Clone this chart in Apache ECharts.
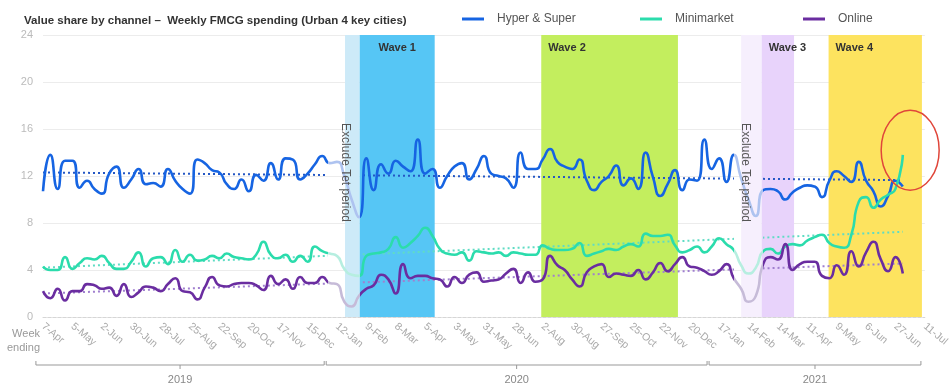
<!DOCTYPE html>
<html>
<head>
<meta charset="utf-8">
<script src="https://cdn.jsdelivr.net/npm/echarts@6/dist/echarts.min.js"></script>
<style>
  html, body { margin: 0; padding: 0; background: #fff; }
  #main { width: 952px; height: 389px; }
</style>
</head>
<body>
<div id="main"></div>
<script>
// week labels, one every 4 weeks (index 0 .. 120)
var tickLabels = ['7-Apr','5-May','2-Jun','30-Jun','28-Jul','25-Aug','22-Sep','20-Oct','17-Nov','15-Dec',
  '12-Jan','9-Feb','8-Mar','5-Apr','3-May','31-May','28-Jun','2-Aug','30-Aug','27-Sep','25-Oct','22-Nov','20-Dec',
  '17-Jan','14-Feb','14-Mar','11-Apr','9-May','6-Jun','27-Jun','11-Jul'];

var hyperSuper = [10.7,13.8,10.9,13.3,13.3,11.0,11.6,10.9,10.5,12.2, 12.8,11.0,11.7,12.6,11.3,11.4,11.1,12.6,11.6,10.9,
  10.5,13.4,13.1,12.5,12.3,11.3,10.9,11.7,10.7,12.1, 11.6,13.1,11.7,13.5,13.4,11.7,12.2,13.0,13.7,13.1,
  13.2,12.0,10.0,8.5,13.5,10.8,13.0,12.2,13.3,12.8, 12.4,15.1,12.2,12.6,11.0,12.0,12.8,13.1,11.7,12.6,
  13.7,12.2,12.0,11.8,11.0,14.0,12.6,12.6,13.4,14.3, 13.2,12.8,12.6,13.4,11.6,10.8,11.5,12.0,12.9,11.2,
  11.8,10.9,14.0,11.9,10.3,11.3,12.5,10.8,11.7,11.6, 15.1,12.6,13.5,11.5,13.8,11.8,10.0,8.6,10.8,10.9,
  10.7,10.0,10.6,11.0,11.2,11.1,10.2,11.6,12.4,12.0, 11.5,13.2,11.6,10.7,9.4,10.3,11.6,11.1];

var minimarket = [4.3,4.0,4.0,5.1,4.1,4.6,5.0,4.9,5.2,4.6, 4.1,4.1,4.7,5.5,4.3,5.0,5.1,4.5,5.7,4.7,
  5.3,4.8,4.9,5.2,5.0,5.4,5.1,5.0,4.9,5.3, 6.4,5.3,5.0,5.3,4.7,5.2,4.7,6.0,5.6,5.4,
  5.2,4.1,3.6,3.5,5.2,5.4,5.5,5.8,6.8,5.9, 6.3,6.9,7.6,6.9,5.8,5.4,5.3,5.5,4.8,5.6,
  5.5,5.4,5.5,5.2,5.5,5.4,5.3,5.3,6.1,5.8, 5.7,5.7,5.8,6.3,5.2,5.4,5.6,5.8,5.7,6.0,
  6.2,6.0,7.1,6.9,6.9,7.0,6.1,5.5,5.7,6.0, 5.5,6.0,6.7,6.2,5.7,4.4,3.7,4.2,5.6,5.8,
  5.4,6.0,6.2,6.1,6.5,6.8,7.0,6.3,6.0,5.9, 7.0,9.8,10.2,9.3,10.0,10.4,10.9,13.8];

var online = [2.2,1.6,2.4,1.4,2.2,2.2,2.8,2.7,2.4,2.5, 1.8,2.8,1.7,2.1,2.6,2.5,2.2,2.8,3.3,2.2,
  2.1,1.5,2.5,3.4,2.7,2.6,2.8,2.9,2.9,2.7, 2.3,3.5,2.8,3.2,2.4,3.4,2.9,2.9,3.4,2.9,
  2.8,1.3,0.9,1.8,2.4,2.7,3.6,3.2,2.0,4.5, 3.3,3.5,3.5,3.3,3.2,2.6,3.4,2.9,3.6,3.8,
  3.0,3.1,3.2,3.7,4.1,2.9,3.8,3.0,3.2,5.2, 4.4,4.0,3.2,2.6,3.8,4.3,4.5,3.4,3.7,3.6,
  3.5,4.0,3.2,3.8,4.6,3.9,4.5,5.1,4.3,4.2, 3.9,3.6,3.9,4.5,3.3,2.4,1.3,1.8,4.5,5.1,
  4.9,6.2,4.0,4.5,4.7,4.7,3.5,3.3,4.4,3.6, 5.6,4.3,5.5,6.4,4.9,3.9,5.1,3.7];

// trend lines: value at first week, value at last week
var trendHyper = [12.3, 11.65];
var trendMini = [4.2, 7.25];
var trendOnline = [2.0, 4.55];

// shaded periods, in week index
var waves = [
  { name: '', from: 41.1, to: 43.1, color: '#cdeaf8' },
  { name: 'Wave 1', from: 43.1, to: 53.3, color: '#56c6f5', pos: 'insideTop' },
  { name: 'Wave 2', from: 67.8, to: 86.4, color: '#c3ee5e', pos: 'insideTopLeft' },
  { name: '', from: 95.0, to: 97.8, color: '#f6effd' },
  { name: 'Wave 3', from: 97.8, to: 102.2, color: '#e8d3fb', pos: 'insideTopLeft' },
  { name: 'Wave 4', from: 106.9, to: 119.6, color: '#fde35f', pos: 'insideTopLeft' }
];
var fade1 = [38.8, 43.1];
var fade2 = [94, 98];
var years = [
  { name: '2019', from: -1.1, to: 38.4 },
  { name: '2020', from: 38.4, to: 90.5 },
  { name: '2021', from: 90.5, to: 119.6 }
];

var font = 'Arial, "Liberation Sans", sans-serif';
var lastWeek = hyperSuper.length - 1;

function toPairs(arr) {
  return arr.map(function (v, i) { return [i, v]; });
}
function pieces(c, off) {
  return [
    { lt: fade1[0], color: c },
    { gte: fade1[0], lt: fade1[1], color: off },
    { gte: fade1[1], lt: fade2[0], color: c },
    { gte: fade2[0], lt: fade2[1], color: off },
    { gte: fade2[1], color: c }
  ];
}
function mainLine(name, data, c) {
  return {
    name: name, type: 'line', data: toPairs(data), smooth: 0.6, showSymbol: false,
    color: c, itemStyle: { color: c }, lineStyle: { width: 2.6 }, z: 3
  };
}
function trendLine(t, c) {
  return {
    type: 'line', data: [[0, t[0]], [lastWeek, t[1]]], showSymbol: false, silent: true,
    color: c, lineStyle: { width: 2, type: [2, 3] }, z: 2
  };
}

var chart = echarts.init(document.getElementById('main'));

var legendBase = {
  top: 8, itemWidth: 22, itemHeight: 3, icon: 'rect',
  textStyle: { color: '#555', fontSize: 12, fontFamily: font, padding: [0, 0, 0, 8] }
};

chart.setOption({
  animation: false,
  textStyle: { fontFamily: font },
  title: {
    text: 'Value share by channel \u2013  Weekly FMCG spending (Urban 4 key cities)',
    left: 19, top: 10,
    textStyle: { fontSize: 11.5, fontWeight: 'bold', color: '#333', fontFamily: font }
  },
  legend: [
    Object.assign({ left: 457, data: ['Hyper & Super'] }, legendBase),
    Object.assign({ left: 635, data: ['Minimarket'] }, legendBase),
    Object.assign({ left: 798, data: ['Online'] }, legendBase)
  ],
  grid: { left: 43, right: 27, top: 35, bottom: 72 },
  xAxis: {
    type: 'value', min: 0, max: 120, interval: 4,
    axisLine: { show: true, lineStyle: { color: '#d6d6d6', type: [3, 2] } },
    axisTick: { show: false },
    splitLine: { show: false },
    axisLabel: {
      rotate: -40, margin: 8, color: '#aaa', fontSize: 10.5, showMaxLabel: true, showMinLabel: true,
      formatter: function (v) { return tickLabels[v / 4] || ''; }
    }
  },
  yAxis: {
    type: 'value', min: 0, max: 24, interval: 4,
    axisLine: { show: false }, axisTick: { show: false },
    axisLabel: { color: '#bbb', fontSize: 11, margin: 10 },
    splitLine: { lineStyle: { color: '#ececec' } }
  },
  visualMap: [
    { show: false, type: 'piecewise', dimension: 0, seriesIndex: 1, pieces: pieces('#2457c5', 'rgba(0,0,0,0)') },
    { show: false, type: 'piecewise', dimension: 0, seriesIndex: 2, pieces: pieces('#5fdcc4', 'rgba(0,0,0,0)') },
    { show: false, type: 'piecewise', dimension: 0, seriesIndex: 3, pieces: pieces('#a07fcf', 'rgba(0,0,0,0)') },
    { show: false, type: 'piecewise', dimension: 0, seriesIndex: 4, pieces: pieces('#1664e2', '#aec3f0') },
    { show: false, type: 'piecewise', dimension: 0, seriesIndex: 5, pieces: pieces('#2bdcac', '#b6eee0') },
    { show: false, type: 'piecewise', dimension: 0, seriesIndex: 6, pieces: pieces('#6a2da0', '#c6bbd8') }
  ],
  series: [
    {
      type: 'line', data: [], silent: true,
      markArea: {
        silent: true,
        data: waves.map(function (w) {
          return [{
            xAxis: w.from, yAxis: 0,
            itemStyle: { color: w.color },
            label: {
              show: !!w.name, position: w.pos || 'insideTop', distance: 7,
              color: '#333', fontWeight: 'bold', fontSize: 11, fontFamily: font
            },
            name: w.name
          }, { xAxis: w.to, yAxis: 24 }];
        })
      }
    },
    trendLine(trendHyper, '#2457c5'),
    trendLine(trendMini, '#5fdcc4'),
    trendLine(trendOnline, '#a07fcf'),
    mainLine('Hyper & Super', hyperSuper, '#1664e2'),
    mainLine('Minimarket', minimarket, '#2bdcac'),
    mainLine('Online', online, '#6a2da0')
  ]
});

// annotations placed with the chart's own scales
function px(i, v) { return chart.convertToPixel({ xAxisIndex: 0, yAxisIndex: 0 }, [i, v]); }
var g = [];
var yb = 365;
years.forEach(function (y) {
  var a = px(y.from, 0)[0] + 1, b = px(y.to, 0)[0] - 1, m = (a + b) / 2;
  g.push({ type: 'polyline', shape: { points: [[a, yb - 4], [a, yb], [b, yb], [b, yb - 4]] },
    style: { stroke: '#999', lineWidth: 1, fill: null } });
  g.push({ type: 'line', shape: { x1: m, y1: yb, x2: m, y2: yb + 4 }, style: { stroke: '#999', lineWidth: 1 } });
  g.push({ type: 'text', x: m, y: yb + 15, style: { text: y.name, fill: '#888', font: '11px ' + font, align: 'center', verticalAlign: 'middle' } });
});
g.push({ type: 'text', x: 40, y: 334, style: { text: 'Week', fill: '#999', font: '11px ' + font, align: 'right', verticalAlign: 'middle' } });
g.push({ type: 'text', x: 40, y: 348, style: { text: 'ending', fill: '#999', font: '11px ' + font, align: 'right', verticalAlign: 'middle' } });
[41.1, 95.6].forEach(function (i) {
  var p = px(i, 12.3);
  g.push({ type: 'text', x: p[0], y: p[1], rotation: -Math.PI / 2, z: 10,
    style: { text: 'Exclude Tet period', fill: '#555', font: '12px ' + font, align: 'center', verticalAlign: 'middle' } });
});
var c = px(118, 14.2);
g.push({ type: 'ellipse', z: 10, shape: { cx: c[0], cy: c[1], rx: 29, ry: 40 },
  style: { stroke: '#e0463a', lineWidth: 1.5, fill: null } });
chart.setOption({ graphic: g });
</script>
</body>
</html>
